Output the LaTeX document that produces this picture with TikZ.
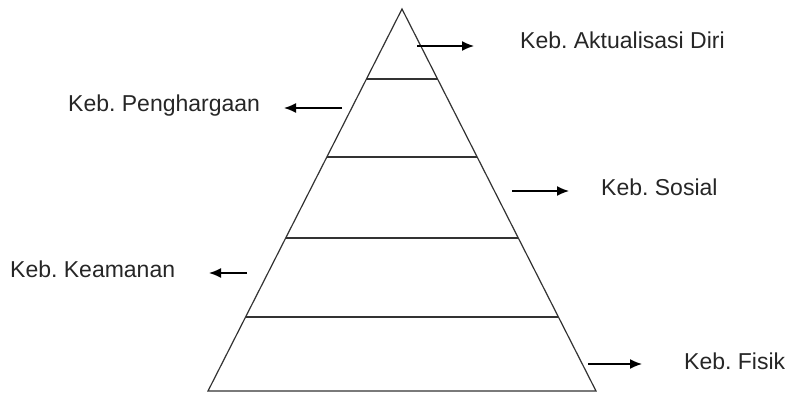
\documentclass[tikz,border=0pt]{standalone}
\usepackage{fontspec}
\setmainfont{Liberation Sans}
\usetikzlibrary{arrows.meta}
\tikzset{
  edge/.style={draw=black!80, line width=1.2pt},
  pointer/.style={line width=1.5pt, -{Latex[length=12pt,width=10pt]}},
  lbl/.style={anchor=base west, inner sep=0pt, text=black!85,
    font=\fontsize{23}{27}\selectfont}
}
\frenchspacing
\begin{document}
\begin{tikzpicture}[x=1pt,y=-1pt]
  \useasboundingbox (0,0) rectangle (789,393);
  % pyramid outline
  \coordinate (apex) at (402,9);
  \coordinate (bl) at (208,391);
  \coordinate (br) at (596,391);
  \draw[edge, line join=miter] (apex) -- (bl) -- (br) -- cycle;
  % level dividers
  \foreach \y/\n in {79/a,157/b,238/c,317/d}{
    \pgfmathsetmacro{\dx}{(\y-9)/382*194}
    \coordinate (l\n) at ({402-\dx},\y);
    \coordinate (r\n) at ({402+\dx},\y);
    \draw[edge] (l\n) -- (r\n);
  }
  % labels
  \node[lbl] (aktual) at (520,49) {Keb. Aktualisasi Diri};
  \node[lbl] (harga)  at (68,112) {Keb. Penghargaan};
  \node[lbl] (sosial) at (601,195) {Keb. Sosial};
  \node[lbl] (aman)   at (10,277) {Keb. Keamanan};
  \node[lbl] (fisik)  at (684,369) {Keb. Fisik};
  % arrows
  \coordinate (p1s) at (417,46);  \coordinate (p1e) at (474,46);
  \coordinate (p2s) at (342,108); \coordinate (p2e) at (284,108);
  \coordinate (p3s) at (512,191); \coordinate (p3e) at (569,191);
  \coordinate (p4s) at (247,273); \coordinate (p4e) at (209,273);
  \coordinate (p5s) at (588,364); \coordinate (p5e) at (642,364);
  \foreach \i in {1,...,5}{
    \draw[pointer] (p\i s) -- (p\i e);
  }
\end{tikzpicture}
\end{document}
